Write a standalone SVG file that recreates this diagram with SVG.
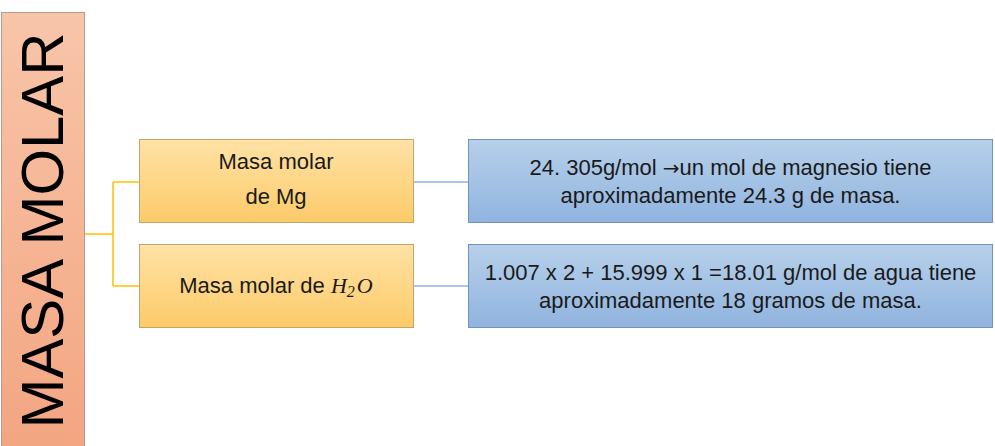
<svg xmlns="http://www.w3.org/2000/svg" width="995" height="446" viewBox="0 0 995 446">
<style>
.t{font-family:"Liberation Sans",Arial,sans-serif;font-size:22px;fill:#1a1a1a;text-anchor:middle}
.title{font-family:"Liberation Sans",Arial,sans-serif;font-size:60px;fill:#000;text-anchor:middle}
.m{font-family:"Liberation Serif","Times New Roman",serif;font-style:italic}
.ar{font-family:"DejaVu Sans",sans-serif;font-size:20px}
.yl{stroke:#FFC000;stroke-width:1.5;fill:none}
.bl{stroke:#8DB4E2;stroke-width:1.5;fill:none}
</style>
<defs>
<linearGradient id="gs" x1="0" y1="0" x2="0" y2="1">
<stop offset="0" stop-color="#F8C5A9"/><stop offset="1" stop-color="#F3A581"/>
</linearGradient>
<linearGradient id="go" x1="0" y1="0" x2="0" y2="1">
<stop offset="0" stop-color="#FFE2A6"/><stop offset="1" stop-color="#FCCB69"/>
</linearGradient>
<linearGradient id="gb" x1="0" y1="0" x2="0" y2="1">
<stop offset="0" stop-color="#B7D0EA"/><stop offset="1" stop-color="#90B4DF"/>
</linearGradient>
</defs>
<rect width="995" height="446" fill="#fff"/>
<g id="connectors">
<path class="yl" d="M85,234 H113 M113,182 V286 M113,182 H139 M113,286 H139"/>
<path class="bl" d="M413,182 H468 M413,286 H468"/>
</g>
<g id="root">
<rect x="1.5" y="12.5" width="83" height="440" fill="url(#gs)" stroke="#B79C92" stroke-width="1"/>
<text class="title" transform="translate(63,230.5) rotate(-90)" textLength="396" lengthAdjust="spacingAndGlyphs">MASA MOLAR</text>
</g>
<g id="mg">
<rect x="139.5" y="139.5" width="274" height="83" fill="url(#go)" stroke="#C4A46C" stroke-width="1"/>
<text class="t" x="276" y="169">Masa molar</text>
<text class="t" x="276" y="204">de Mg</text>
</g>
<g id="h2o">
<rect x="139.5" y="244.5" width="274" height="83" fill="url(#go)" stroke="#C4A46C" stroke-width="1"/>
<text class="t" x="276" y="293">Masa molar de <tspan class="m">H</tspan><tspan class="m" font-size="16" dy="4">2</tspan><tspan class="m" dx="2" dy="-4">O</tspan></text>
</g>
<g id="mg-info">
<rect x="468.5" y="139.5" width="524" height="83" fill="url(#gb)" stroke="#7393BA" stroke-width="1"/>
<text class="t" x="730.5" y="175">24. 305g/mol <tspan class="ar">→</tspan>un mol de magnesio tiene</text>
<text class="t" x="730.5" y="203">aproximadamente 24.3 g de masa.</text>
</g>
<g id="h2o-info">
<rect x="468.5" y="244.5" width="524" height="83" fill="url(#gb)" stroke="#7393BA" stroke-width="1"/>
<text class="t" x="730.5" y="280">1.007 x 2 + 15.999 x 1 =18.01 g/mol de agua tiene</text>
<text class="t" x="730.5" y="308">aproximadamente 18 gramos de masa.</text>
</g>
</svg>
